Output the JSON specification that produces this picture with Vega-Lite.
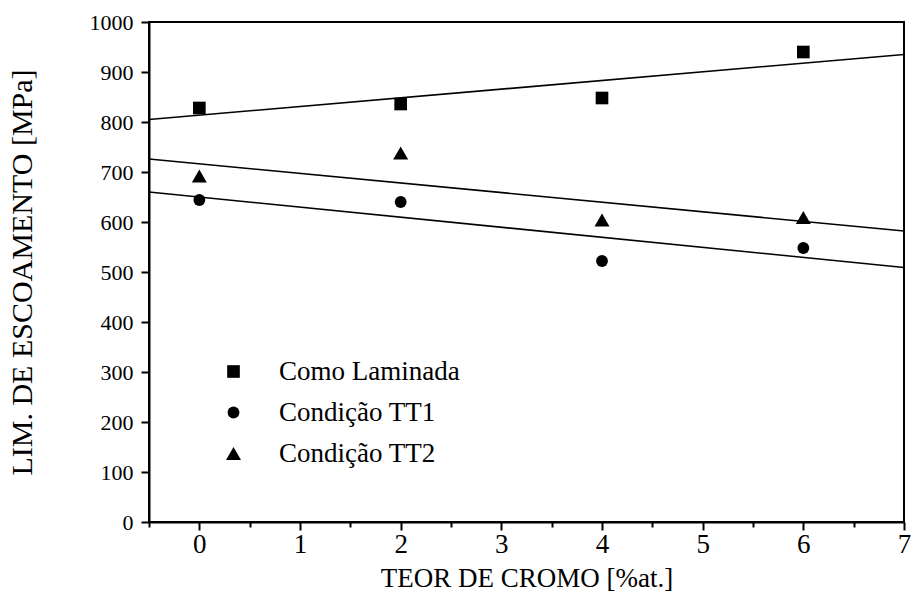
{
  "$schema": "https://vega.github.io/schema/vega-lite/v6.json",
  "width": 755,
  "height": 500,
  "autosize": {"type": "none"},
  "padding": {"left": 149, "top": 22, "right": 7, "bottom": 79},
  "background": "white",
  "config": {
    "view": {"stroke": "black", "strokeWidth": 2},
    "axis": {
      "domainColor": "black",
      "domainWidth": 2,
      "tickColor": "black",
      "tickWidth": 2,
      "grid": false,
      "labelColor": "black",
      "labelFont": "Liberation Sans Narrow",
      "titleFont": "Liberation Serif",
      "titleFontWeight": "normal",
      "titleColor": "black"
    },
    "legend": {
      "title": null,
      "padding": 0,
      "labelFont": "Liberation Serif",
      "labelFontSize": 27,
      "labelColor": "black",
      "labelOffset": 32,
      "labelLimit": 400,
      "rowPadding": 13,
      "symbolFillColor": "black",
      "symbolStrokeColor": "black",
      "symbolOpacity": 1
    }
  },
  "datasets": {
    "points": [
      {"series": "Como Laminada", "cr": 0, "lim": 828},
      {"series": "Como Laminada", "cr": 2, "lim": 836},
      {"series": "Como Laminada", "cr": 4, "lim": 848},
      {"series": "Como Laminada", "cr": 6, "lim": 940},
      {"series": "Condição TT1", "cr": 0, "lim": 644},
      {"series": "Condição TT1", "cr": 2, "lim": 640},
      {"series": "Condição TT1", "cr": 4, "lim": 522},
      {"series": "Condição TT1", "cr": 6, "lim": 548},
      {"series": "Condição TT2", "cr": 0, "lim": 692},
      {"series": "Condição TT2", "cr": 2, "lim": 738},
      {"series": "Condição TT2", "cr": 4, "lim": 604},
      {"series": "Condição TT2", "cr": 6, "lim": 609}
    ],
    "fits": [
      {"series": "Como Laminada", "cr": -0.5, "lim": 805},
      {"series": "Como Laminada", "cr": 7, "lim": 935},
      {"series": "Condição TT1", "cr": -0.5, "lim": 660},
      {"series": "Condição TT1", "cr": 7, "lim": 509},
      {"series": "Condição TT2", "cr": -0.5, "lim": 726},
      {"series": "Condição TT2", "cr": 7, "lim": 582}
    ]
  },
  "layer": [
    {
      "data": {"name": "fits"},
      "mark": {"type": "line", "color": "black", "strokeWidth": 1.6},
      "encoding": {
        "x": {
          "field": "cr", "type": "quantitative",
          "scale": {"domain": [-0.5, 7], "nice": false, "zero": false},
          "axis": {
            "title": "TEOR DE CROMO [%at.]",
            "titleFontSize": 27,
            "values": [-0.5, 0, 0.5, 1, 1.5, 2, 2.5, 3, 3.5, 4, 4.5, 5, 5.5, 6, 6.5, 7],
            "labelExpr": "datum.value % 1 === 0 ? format(datum.value, 'd') : ''",
            "tickSize": {"condition": {"test": "datum.value % 1 === 0", "value": 8}, "value": 5},
            "labelFontSize": 27,
            "labelPadding": 1,
            "titlePadding": 8,
            "labelFlush": false,
            "labelOverlap": false
          }
        },
        "y": {
          "field": "lim", "type": "quantitative",
          "scale": {"domain": [0, 1000], "nice": false},
          "axis": {
            "title": "LIM. DE ESCOAMENTO [MPa]",
            "titleFontSize": 30,
            "values": [0, 50, 100, 150, 200, 250, 300, 350, 400, 450, 500, 550, 600, 650, 700, 750, 800, 850, 900, 950, 1000],
            "labelExpr": "datum.value % 100 === 0 ? format(datum.value, 'd') : ''",
            "tickSize": {"condition": {"test": "datum.value % 100 === 0", "value": 8}, "value": 5},
            "labelFontSize": 22,
            "labelPadding": 8,
            "titlePadding": 52,
            "labelFlush": false,
            "labelOverlap": false
          }
        },
        "detail": {"field": "series", "type": "nominal"}
      }
    },
    {
      "data": {"name": "points"},
      "mark": {"type": "point", "filled": true, "opacity": 1, "color": "black"},
      "encoding": {
        "x": {"field": "cr", "type": "quantitative"},
        "y": {"field": "lim", "type": "quantitative"},
        "shape": {
          "field": "series", "type": "nominal",
          "scale": {"domain": ["Como Laminada", "Condição TT1", "Condição TT2"], "range": ["square", "circle", "triangle-up"]},
          "legend": {"orient": "none", "legendX": 71, "legendY": 336}
        },
        "size": {
          "field": "series", "type": "nominal",
          "scale": {"type": "ordinal", "domain": ["Como Laminada", "Condição TT1", "Condição TT2"], "range": [160, 140, 225]},
          "legend": {"orient": "none", "legendX": 71, "legendY": 336}
        }
      }
    }
  ]
}
